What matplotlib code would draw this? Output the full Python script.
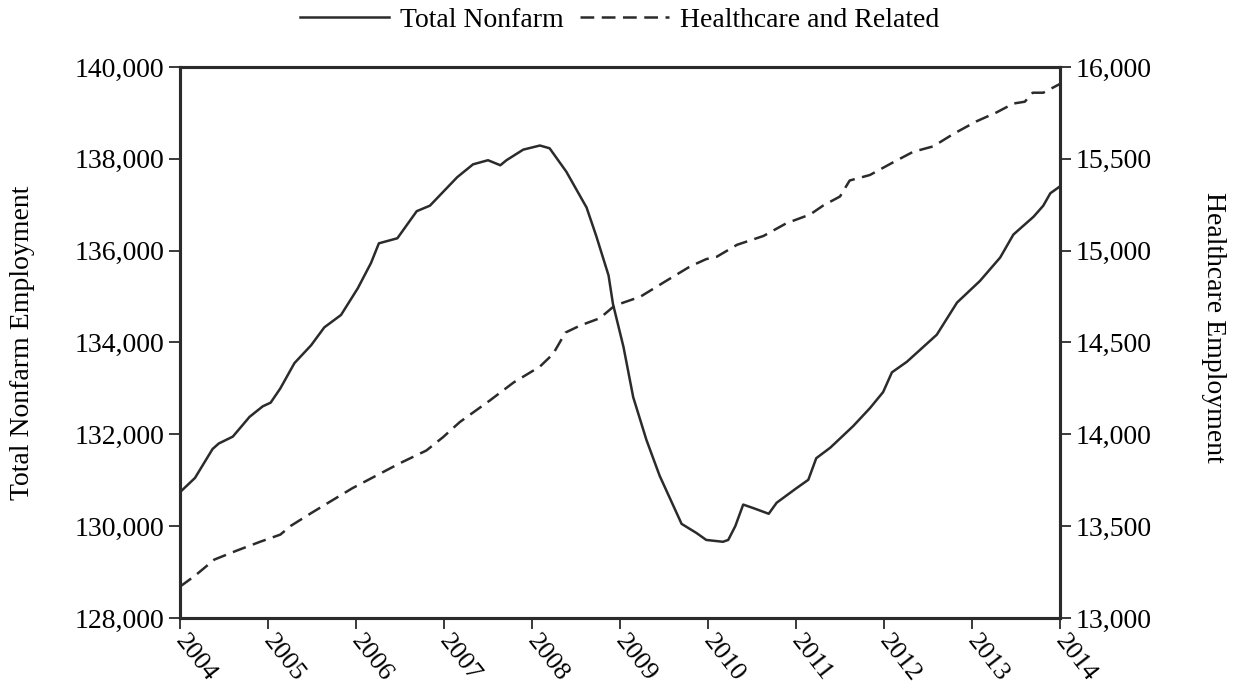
import matplotlib
matplotlib.use("Agg")
import matplotlib.pyplot as plt
from matplotlib.ticker import FuncFormatter

plt.rcParams['font.family'] = ['Liberation Serif', 'DejaVu Serif']

# Total nonfarm employment (thousands)
nonfarm_t = [2004.0, 2004.17, 2004.37, 2004.44, 2004.6, 2004.79, 2004.94, 2005.03, 2005.14,
             2005.3, 2005.49, 2005.64, 2005.83, 2006.02, 2006.17, 2006.26, 2006.47, 2006.69,
             2006.84, 2007.0, 2007.15, 2007.33, 2007.5, 2007.64, 2007.71, 2007.9, 2008.09,
             2008.2, 2008.39, 2008.62, 2008.73, 2008.87, 2008.92, 2009.04, 2009.15, 2009.3,
             2009.45, 2009.6, 2009.7, 2009.87, 2009.98, 2010.17, 2010.23, 2010.31, 2010.4,
             2010.52, 2010.69, 2010.78, 2011.0, 2011.14, 2011.23, 2011.39, 2011.65, 2011.84,
             2011.99, 2012.09, 2012.26, 2012.6, 2012.83, 2013.09, 2013.32, 2013.47, 2013.7,
             2013.81, 2013.89, 2014.0]
nonfarm = [130740, 131050, 131680, 131800, 131950, 132380, 132610, 132690, 133000,
           133550, 133940, 134330, 134600, 135180, 135730, 136160, 136270, 136860,
           136980, 137300, 137600, 137880, 137970, 137860, 137970, 138200, 138290,
           138230, 137720, 136940, 136320, 135460, 134840, 133900, 132810, 131880,
           131100, 130470, 130050, 129850, 129700, 129660, 129700, 130000, 130470,
           130390, 130270, 130510, 130820, 131010, 131480, 131710, 132180, 132570,
           132920, 133350, 133580, 134170, 134870, 135340, 135850, 136350, 136740,
           136980, 137250, 137400]

# Healthcare and related employment (thousands)
health_t = [2004.0, 2004.17, 2004.39, 2004.64, 2004.91, 2005.14, 2005.26, 2005.49, 2005.69,
            2005.96, 2006.19, 2006.5, 2006.8, 2006.99, 2007.18, 2007.52, 2007.79, 2008.09,
            2008.24, 2008.38, 2008.55, 2008.77, 2008.94, 2009.23, 2009.53, 2009.8, 2009.98,
            2010.1, 2010.33, 2010.63, 2010.89, 2011.16, 2011.31, 2011.5, 2011.61, 2011.84,
            2012.1, 2012.33, 2012.56, 2012.79, 2013.05, 2013.28, 2013.47, 2013.6, 2013.69,
            2013.81, 2014.0]
health = [13171, 13230, 13318, 13366, 13415, 13454, 13502, 13571, 13629,
          13707, 13765, 13843, 13912, 13985, 14067, 14184, 14282, 14369,
          14438, 14554, 14593, 14632, 14701, 14749, 14837, 14915, 14954,
          14967, 15032, 15080, 15149, 15197, 15246, 15295, 15382, 15412,
          15480, 15538, 15568, 15636, 15704, 15753, 15801, 15811, 15860,
          15860, 15908]

years = list(range(2004, 2015))
left_ticks = list(range(128000, 140001, 2000))
right_ticks = list(range(13000, 16001, 500))

ink = '#2b2b2b'
fs = 20

fig = plt.figure(figsize=(12.39, 6.90), dpi=100, facecolor='white')
ax = fig.add_axes([180 / 1239, 1 - 618 / 690, 880 / 1239, 551 / 690])
ax2 = ax.twinx()

l1, = ax.plot(nonfarm_t, nonfarm, color=ink, lw=1.8, label='Total Nonfarm')
l2, = ax2.plot(health_t, health, color=ink, lw=1.8, dashes=(5.5, 3), label='Healthcare and Related')

ax.set_xlim(2004, 2014)
ax.set_ylim(128000, 140000)
ax2.set_ylim(13000, 16000)
ax.set_xticks(years)
ax.set_yticks(left_ticks)
ax2.set_yticks(right_ticks)
fmt = FuncFormatter(lambda v, p: f'{int(v):,}')
ax.yaxis.set_major_formatter(fmt)
ax2.yaxis.set_major_formatter(fmt)

for a in (ax, ax2):
    for s in a.spines.values():
        s.set_linewidth(2.2)
        s.set_color(ink)
    a.tick_params(direction='out', length=8, width=1.3, colors=ink, labelsize=fs, labelcolor='black')

ax.set_xticklabels([str(y) for y in years], rotation=-52, ha='left', va='center',
                   rotation_mode='anchor', fontsize=19)
ax.tick_params(axis='x', pad=6)

ax.set_ylabel('Total Nonfarm Employment', fontsize=fs)
ax2.set_ylabel('Healthcare Employment', fontsize=fs, rotation=270)
ax.yaxis.set_label_coords(-(180 - 35) / 880, 0.5)
ax2.yaxis.set_label_coords(1 + 166 / 880, 0.527)

fig.legend([l1, l2], ['Total Nonfarm', 'Healthcare and Related'], loc='center',
           bbox_to_anchor=(0.5, 1 - 20 / 690), ncol=2, frameon=False, fontsize=fs,
           handlelength=3.2, handletextpad=0.4, columnspacing=0.6)

fig.savefig('out.png', dpi=100, facecolor='white')
